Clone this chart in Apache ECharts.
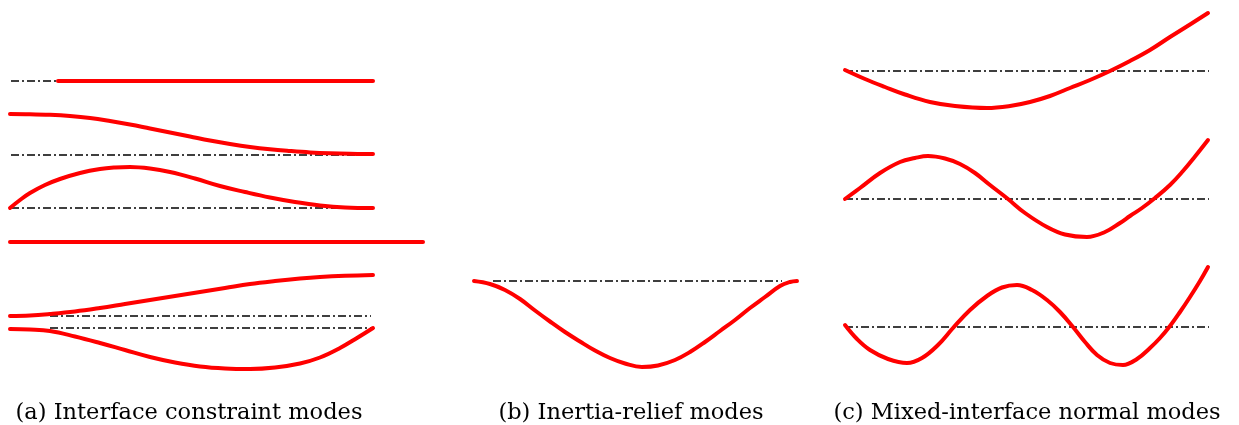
<!DOCTYPE html>
<html>
<head>
<meta charset="utf-8">
<script src="https://cdn.jsdelivr.net/npm/echarts@6/dist/echarts.min.js"></script>
<style>html,body{margin:0;padding:0;background:#fff}#c{width:1239px;height:425px}</style>
</head>
<body>
<div id="c"></div>
<script>
// ---- data (x, y in drawing units; y grows downward) ----
// Panel (a) interface constraint modes
const aRef1 = [[11, 81], [58, 81]];
const aMode1 = [[58, 81], [373, 81]];
const aRef2 = [[11, 155], [373, 155]];
const aMode2 = [[10, 114], [30, 114.2], [50, 114.8], [70, 116], [90, 118], [110, 121], [130, 124.5], [150, 128.5], [170, 132.5], [190, 136.5], [210, 140.5], [230, 144], [250, 147], [270, 149.3], [290, 151], [310, 152.4], [330, 153.3], [350, 153.8], [373, 154]];
const aRef3 = [[11, 208], [373, 208]];
const aMode3 = [[10, 208], [20, 200], [30, 193], [45, 185], [60, 179], [80, 173], [100, 169], [115, 167.5], [130, 167], [150, 168.5], [170, 172], [195, 178.5], [220, 186], [245, 192], [270, 197.5], [295, 202], [320, 205.5], [345, 207.5], [373, 208]];
const aMode4 = [[10, 242], [423, 242]];
const aRef5 = [[50, 316], [371, 316]];
const aMode5 = [[10, 316], [30, 315.5], [50, 314], [75, 311.5], [100, 308], [125, 304], [150, 300], [175, 296], [200, 292], [225, 288], [250, 284], [275, 281], [300, 278.5], [320, 277], [345, 275.8], [373, 275]];
const aRef6 = [[50, 328], [373, 328]];
const aMode6 = [[10, 329], [30, 329.5], [50, 331], [75, 336.5], [100, 343], [125, 350], [150, 357], [175, 362.5], [200, 366.5], [225, 368.5], [250, 369], [275, 367.5], [300, 363.5], [320, 357.5], [340, 348], [357, 338], [373, 328]];

// Panel (b) inertia-relief modes
const bRef = [[493, 281], [782, 281]];
const bMode = [[474, 281], [490, 284], [505, 290], [520, 299], [535, 310.5], [550, 321.5], [565, 332], [580, 341.5], [595, 350.5], [610, 358], [625, 363.5], [642, 367], [658, 365.5], [675, 360], [690, 352], [705, 342], [720, 331], [735, 320], [750, 308], [765, 297], [780, 286], [790, 282], [797, 281]];

// Panel (c) mixed-interface normal modes
const cRef1 = [[845, 71], [1209, 71]];
const cMode1 = [[845, 70], [865, 79], [885, 87], [905, 94.5], [930, 102], [955, 106], [987, 108], [1010, 106], [1030, 102], [1050, 96], [1070, 88], [1090, 80], [1110, 71], [1130, 61], [1150, 50], [1170, 37], [1190, 24.5], [1208, 13]];
const cRef2 = [[845, 199], [1209, 199]];
const cMode2 = [[845, 199], [860, 188], [880, 173], [900, 162], [915, 158], [928, 156], [945, 158.5], [960, 164], [975, 173], [990, 185], [1008, 199], [1025, 213], [1047, 227], [1065, 234.5], [1087, 237], [1105, 232], [1120, 223], [1130, 216], [1142, 208], [1155, 198], [1170, 185], [1183, 171], [1195, 156.5], [1208, 140]];
const cRef3 = [[845, 327], [1209, 327]];
const cMode3 = [[845, 325], [857, 339], [870, 350], [888, 359], [907, 363], [922, 358], [938, 345], [953, 328], [970, 310], [987, 296], [1002, 287.5], [1017, 285], [1032, 290], [1047, 300], [1060, 312], [1073, 327], [1085, 342], [1097, 355], [1110, 363], [1123, 365], [1137, 359], [1150, 348], [1160, 338], [1170, 326], [1180, 312], [1190, 297], [1200, 281], [1208, 267]];

const captions = ["(a) Interface constraint modes", "(b) Inertia-relief modes", "(c) Mixed-interface normal modes"];

const refLines = [aRef1, aRef2, aRef3, aRef5, aRef6, bRef, cRef1, cRef2, cRef3];
const modeLines = [aMode1, aMode2, aMode3, aMode4, aMode5, aMode6, bMode, cMode1, cMode2, cMode3];

const chart = echarts.init(document.getElementById('c'), null, {renderer: 'canvas'});
const series = [];
refLines.forEach(d => series.push({
  type: 'line', data: d, showSymbol: false, silent: true, animation: false,
  lineStyle: {color: '#000', width: 1.4, type: [8, 3, 2, 3]}, z: 1
}));
modeLines.forEach(d => series.push({
  type: 'line', data: d, smooth: 0.4, showSymbol: false, silent: true, animation: false,
  lineStyle: {color: '#ff0000', width: 4, cap: 'round', join: 'round'}, z: 2
}));

const capX = [189, 631, 1027];
chart.setOption({
  animation: false,
  grid: {left: 0, right: 0, top: 0, bottom: 0},
  xAxis: {type: 'value', min: 0, max: 1239, show: false},
  yAxis: {type: 'value', min: 0, max: 425, inverse: true, show: false},
  series: series,
  graphic: captions.map((t, i) => ({
    type: 'text', x: capX[i], y: 413,
    style: {text: t, fill: '#000', font: '22.5px "DejaVu Serif", serif', textAlign: 'center', textVerticalAlign: 'middle'}
  }))
});
</script>
</body>
</html>
